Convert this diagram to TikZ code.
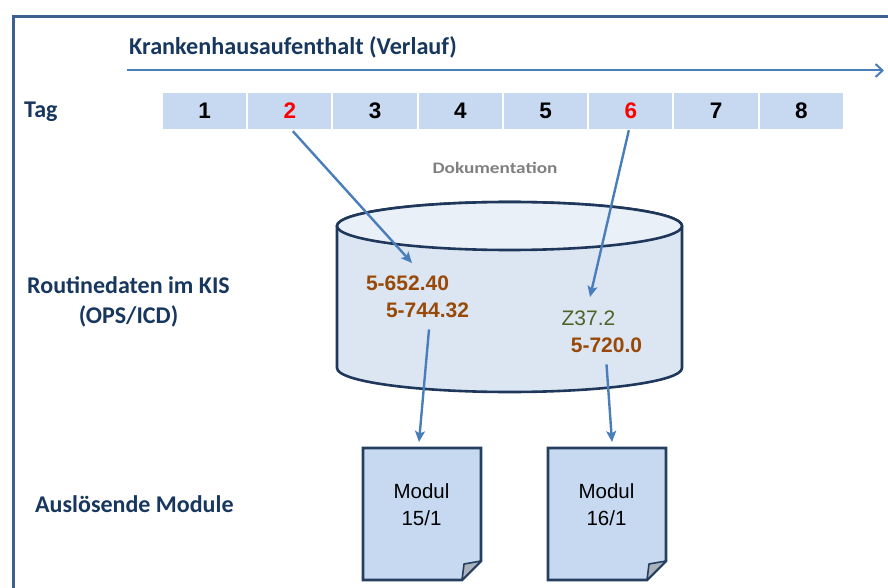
\documentclass[tikz,border=0pt]{standalone}
\usepackage{fontspec}
\usepackage{graphicx}
\setmainfont{Carlito}
\newfontfamily\arialf{Liberation Sans}
\usetikzlibrary{arrows.meta}
\definecolor{frameblue}{RGB}{62,96,143}
\definecolor{navy}{RGB}{23,55,94}
\definecolor{arrblue}{RGB}{74,126,187}
\definecolor{cellblue}{RGB}{198,217,241}
\definecolor{cylline}{RGB}{30,55,90}
\definecolor{cylbody}{RGB}{220,230,242}
\definecolor{cyltop}{RGB}{234,240,248}
\definecolor{codebrown}{RGB}{152,72,7}
\definecolor{codegreen}{RGB}{79,98,40}
\definecolor{docline}{RGB}{36,63,96}
\definecolor{foldgray}{RGB}{170,178,190}
\definecolor{dokgray}{RGB}{127,127,127}
\begin{document}
\begin{tikzpicture}[x=1pt,y=-1pt,
  lbl/.style={font=\fontsize{24}{30}\selectfont\bfseries, text=navy, inner sep=0pt},
  cell/.style={fill=cellblue, minimum width=83.25pt, minimum height=36pt, inner sep=0pt, font=\arialf\bfseries\fontsize{22.5}{24}\selectfont},
  code/.style={font=\arialf\bfseries\fontsize{21}{24}\selectfont, text=codebrown, inner sep=0pt, anchor=base},
  arr/.style={draw=arrblue, line width=2.4pt, -{Stealth[length=11pt,width=10pt,inset=2.5pt]}},
  doc/.style={fill=cellblue, draw=docline, line width=2.6pt, line join=miter},
  fold/.style={fill=foldgray, draw=docline, line width=1.6pt, line join=round},
  modtext/.style={font=\arialf\fontsize{20.5}{27}\selectfont, align=center, inner sep=0pt},
  cyl/.style={draw=cylline, line width=2.6pt}
]
\useasboundingbox (0,0) rectangle (888,588);
\clip (0,0) rectangle (888,588);

% frame
\draw[frameblue, line width=3pt] (13.5,700) -- (13.5,16.5) -- (1000,16.5);

% title and timeline
\node[inner sep=0pt, text=navy, font=\fontsize{24.2}{30}\selectfont\bfseries, anchor=base west] (title) at (129,55) {Krankenhausaufenthalt (Verlauf)};
\coordinate (tlstart) at (127,70.5);
\coordinate (tlend) at (884,70.5);
\draw[arrblue, line width=2pt, -{Straight Barb[length=7pt,width=13pt]}] (tlstart) -- (tlend);

% day row
\node[lbl, anchor=base west] (tag) at (24,118) {Tag};
\foreach \i/\c in {1/black,2/red,3/black,4/black,5/black,6/red,7/black,8/black}
  \node[cell, text=\c] (t\i) at ({204.6+85.25*(\i-1)},111) {\i};

% Dokumentation
\node[inner sep=0pt, text=dokgray, font=\bfseries\fontsize{16}{18}\selectfont] (dok) at (495,168) {\scalebox{1.2}[1]{Dokumentation}};

% cylinder
\filldraw[cyl, fill=cylbody] (337,226) -- (337,368)
  arc[start angle=180, end angle=360, x radius=172.5pt, y radius=24pt]
  -- (682,226)
  arc[start angle=0, end angle=180, x radius=172.5pt, y radius=24pt] -- cycle;
\filldraw[cyl, fill=cyltop] (509.5,226) ellipse[x radius=172.5pt, y radius=24pt];

% codes
\node[code] (c1) at (407.5,290) {5-652.40};
\node[code] (c2) at (427.5,317) {5-744.32};
\node[code, text=codegreen, font=\arialf\fontsize{21}{24}\selectfont] (c3) at (588.5,325) {Z37.2};
\node[code] (c4) at (606.5,352) {5-720.0};

% left labels
\node[lbl, anchor=base] (kis1) at (128.5,293) {Routinedaten im KIS};
\node[lbl, anchor=base] (kis2) at (128.5,323) {(OPS/ICD)};
\node[lbl, anchor=base west] (ausl) at (35,512) {Auslösende Module};

% documents
\filldraw[doc] (363,448) -- (481,448) -- (481,561) -- (462,580) -- (363,580) -- cycle;
\filldraw[fold] (481,561) -- (462,580) -- (464,564) -- cycle;
\node[modtext] (m1) at (421.5,505) {Modul\\15/1};
\filldraw[doc] (548,448) -- (666,448) -- (666,561) -- (647,580) -- (548,580) -- cycle;
\filldraw[fold] (666,561) -- (647,580) -- (649,564) -- cycle;
\node[modtext] (m2) at (606.5,505) {Modul\\16/1};

% arrows
\coordinate (e1) at (412,263);
\coordinate (e2) at (590,297);
\coordinate (m1in) at (419,442);
\coordinate (m2in) at (612,442);
\draw[arr] ([xshift=3pt,yshift=-2pt]t2.south) -- (e1);
\draw[arr] ([xshift=-2pt,yshift=-1pt]t6.south) -- (e2);
\draw[arr] ([xshift=1.5pt,yshift=-12pt]c2.south) -- (m1in);
\draw[arr] ([yshift=-12pt]c4.south) -- (m2in);
\end{tikzpicture}
\end{document}
